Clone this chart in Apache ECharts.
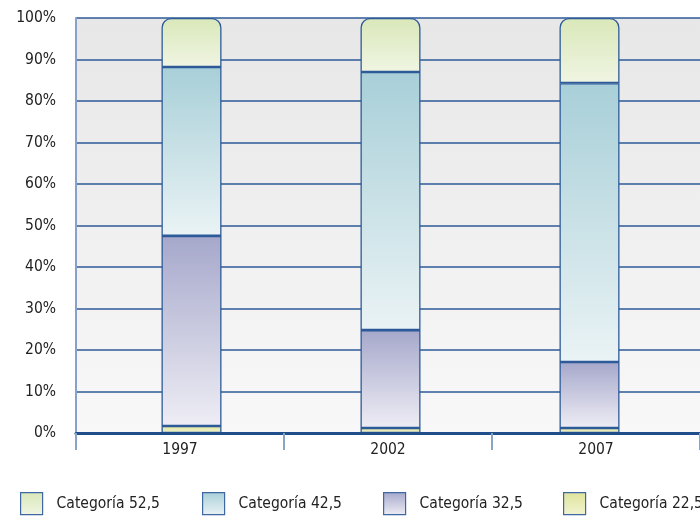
<!DOCTYPE html>
<html><head><meta charset="utf-8">
<script src="https://cdn.jsdelivr.net/npm/echarts@6/dist/echarts.min.js"></script>
<style>html,body{margin:0;padding:0;background:#fff}#c{width:700px;height:516px}</style>
</head><body><div id="c"></div>
<script>
const categories = ['1997', '2002', '2007'];
const seriesNames = ['Categoría 52,5', 'Categoría 42,5', 'Categoría 32,5', 'Categoría 22,5'];
const cat225 = [1.7, 1.2, 1.2];
const cat325 = [45.8, 23.6, 15.9];
const cat425 = [40.7, 62.2, 67.2];
const cat525 = [11.8, 13.0, 15.7];
const yTicks = [0, 10, 20, 30, 40, 50, 60, 70, 80, 90, 100];

const FONT = '"Liberation Sans Narrow", "Arial Narrow", "DejaVu Sans Condensed", "Liberation Sans", Arial, sans-serif';
function grad(top, bottom) {
  return new echarts.graphic.LinearGradient(0, 0, 0, 1, [{offset: 0, color: top}, {offset: 1, color: bottom}]);
}
const fills = {
  'Categoría 52,5': grad('#d9e8b9', '#f0f5e3'),
  'Categoría 42,5': grad('#a8cfd8', '#eaf3f5'),
  'Categoría 32,5': grad('#a6a8cb', '#eeedf5'),
  'Categoría 22,5': grad('#dfe49c', '#f1f3cf')
};
const border = '#2d5a98';
const chart = echarts.init(document.getElementById('c'));
const dataMap = {
  'Categoría 22,5': cat225, 'Categoría 32,5': cat325,
  'Categoría 42,5': cat425, 'Categoría 52,5': cat525
};
const order = ['Categoría 22,5', 'Categoría 32,5', 'Categoría 42,5', 'Categoría 52,5'];
const series = order.map((n, i) => ({
  name: n, type: 'bar', stack: 'a', barWidth: 60,
  xAxisIndex: 1, yAxisIndex: 1,
  data: dataMap[n],
  itemStyle: {
    color: fills[n], borderColor: border, borderWidth: 1.3,
    borderRadius: i === 3 ? [9, 9, 0, 0] : 0
  },
  emphasis: {disabled: true}
}));
const legendX = [20, 202, 383, 563];
const legends = seriesNames.map((n, i) => ({
  data: [{name: n, itemStyle: {color: fills[n], borderColor: '#3f68a3', borderWidth: 1.2}}],
  left: legendX[i], top: 492, itemWidth: 22, itemHeight: 22, itemGap: 10,
  icon: 'rect', padding: 0,
  textStyle: {fontFamily: FONT, fontSize: 15.5, color: '#222', padding: [0, 0, 0, 9]},
  selectedMode: false
}));
chart.setOption({
  animation: false,
  backgroundColor: '#ffffff',
  grid: [{
    left: 76, right: 0, top: 18, bottom: 83, show: true,
    backgroundColor: grad('#e7e7e7', '#f8f8f8'), borderWidth: 0
  }, {
    left: 92, right: 11, top: 18, bottom: 83, show: false
  }],
  legend: legends,
  xAxis: [{
    type: 'category', data: categories, boundaryGap: true, gridIndex: 0,
    axisLine: {show: true, lineStyle: {color: '#1f4e8c', width: 3}},
    axisTick: {show: true, length: 17, lineStyle: {color: '#8aa4c8', width: 2}},
    axisLabel: {fontFamily: FONT, fontSize: 15.5, color: '#222', margin: 9},
    z: 5
  }, {
    type: 'category', data: categories, gridIndex: 1, show: false
  }],
  yAxis: [{
    type: 'value', min: 0, max: 100, interval: 10, gridIndex: 0,
    axisLine: {show: true, lineStyle: {color: '#86a2c8', width: 2}},
    axisTick: {show: false},
    splitLine: {show: true, lineStyle: {color: '#2d5a98', width: 1.5}},
    axisLabel: {
      fontFamily: FONT, fontSize: 15.5, color: '#222', margin: 20,
      formatter: v => yTicks.includes(v) ? v + '%' : ''
    }
  }, {
    type: 'value', min: 0, max: 100, interval: 10, gridIndex: 1, show: false,
    splitLine: {show: false}
  }],
  series: series
});
</script></body></html>
